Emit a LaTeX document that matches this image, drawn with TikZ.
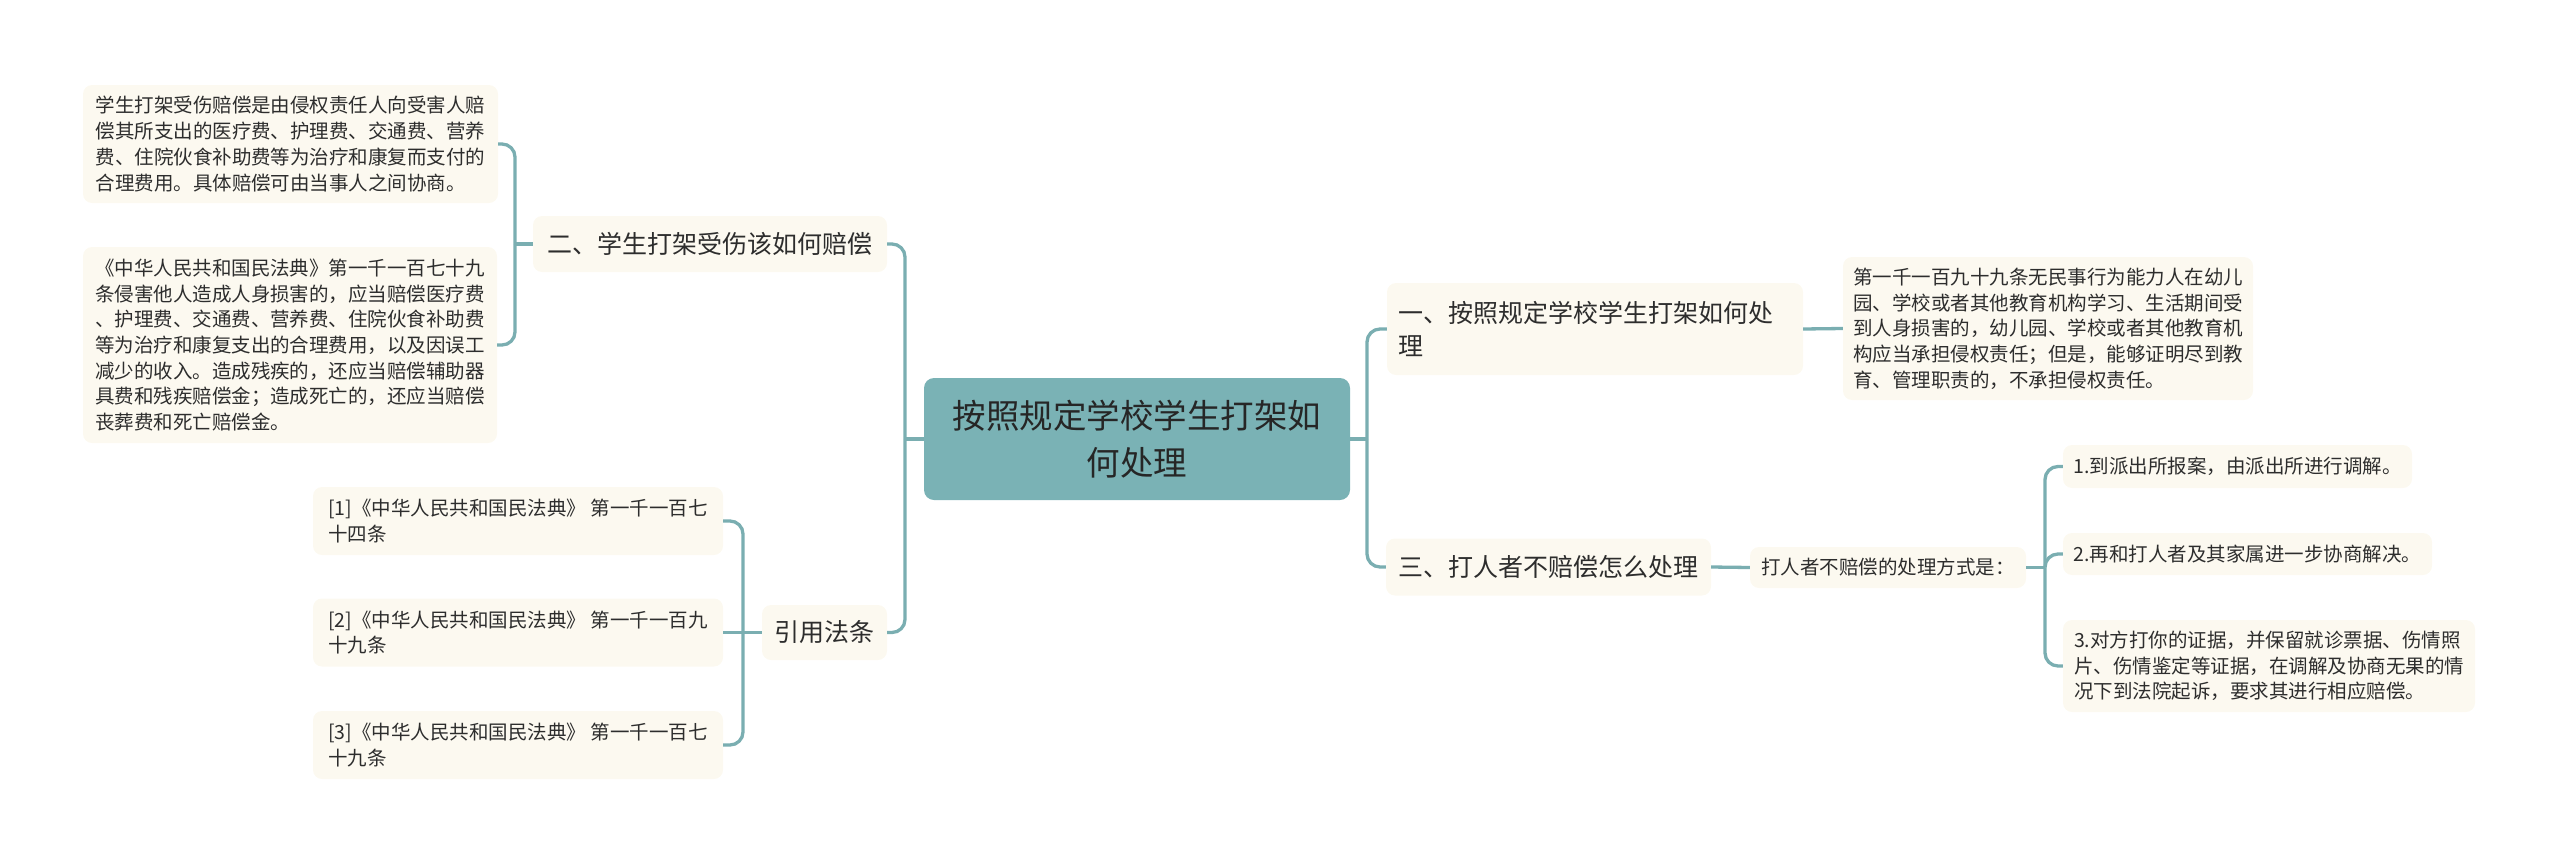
\documentclass[tikz,border=0pt]{standalone}
\usepackage{fontspec}
\setmainfont{Noto Sans CJK SC}
\definecolor{rootF}{RGB}{122,178,181}
\definecolor{lineC}{RGB}{122,174,177}
\definecolor{leafF}{RGB}{252,249,240}
\definecolor{txt}{RGB}{45,45,45}
\newcommand{\fleaf}{\fontsize{19.5}{25.7}\selectfont}
\newcommand{\fbranch}{\fontsize{25}{33}\selectfont}
\newcommand{\froot}{\fontsize{33.5}{47}\selectfont}
\begin{document}
\begin{tikzpicture}[x=1pt,y=-1pt,
  box/.style={fill=leafF, rounded corners=9pt, inner xsep=6pt, inner ysep=0pt, align=left, text=txt},
  leafbox/.style={box, font=\fleaf},
  branchbox/.style={box, font=\fbranch},
  rootbox/.style={fill=rootF, rounded corners=10pt, inner sep=0pt, align=center, font=\froot, text=black!85},
  conn/.style={draw=lineC, line width=3.3pt, rounded corners=13pt},
]
\useasboundingbox (0,0) rectangle (2560,865);

% root
\node[rootbox, minimum width=426, minimum height=122] (root) at (1137,439) {按照规定学校学生打架如\\何处理};

% left side
\node[branchbox, minimum width=354, minimum height=56] (n2) at (710,244) {二、学生打架受伤该如何赔偿};
\node[leafbox, minimum width=415, minimum height=118] (L1) at (290.5,144) {学生打架受伤赔偿是由侵权责任人向受害人赔\\偿其所支出的医疗费、护理费、交通费、营养\\费、住院伙食补助费等为治疗和康复而支付的\\合理费用。具体赔偿可由当事人之间协商。};
\node[leafbox, minimum width=414, minimum height=196] (L2) at (290,345) {《中华人民共和国民法典》第一千一百七十九\\条侵害他人造成人身损害的，应当赔偿医疗费\\、护理费、交通费、营养费、住院伙食补助费\\等为治疗和康复支出的合理费用，以及因误工\\减少的收入。造成残疾的，还应当赔偿辅助器\\具费和残疾赔偿金；造成死亡的，还应当赔偿\\丧葬费和死亡赔偿金。};
\node[branchbox, minimum width=125, minimum height=55] (cite) at (824.5,632.5) {引用法条};
\node[leafbox, minimum width=410, minimum height=68] (c1) at (518,521) {[1]《中华人民共和国民法典》~第一千一百七\\十四条};
\node[leafbox, minimum width=410, minimum height=68] (c2) at (518,632.5) {[2]《中华人民共和国民法典》~第一千一百九\\十九条};
\node[leafbox, minimum width=410, minimum height=68] (c3) at (518,745) {[3]《中华人民共和国民法典》~第一千一百七\\十九条};

% right side
\node[branchbox, inner xsep=11pt, text width=394pt, minimum height=92] (n1) at (1595,329) {一、按照规定学校学生打架如何处\\理};
\node[leafbox, minimum width=410, minimum height=143] (r1) at (2048,328.5) {第一千一百九十九条无民事行为能力人在幼儿\\园、学校或者其他教育机构学习、生活期间受\\到人身损害的，幼儿园、学校或者其他教育机\\构应当承担侵权责任；但是，能够证明尽到教\\育、管理职责的，不承担侵权责任。};
\node[branchbox, minimum width=325, minimum height=57] (n3) at (1548.5,567) {三、打人者不赔偿怎么处理};
\node[leafbox, minimum width=276, minimum height=41] (d) at (1888,567.5) {打人者不赔偿的处理方式是：};
\node[leafbox, minimum width=349, minimum height=43] (p1) at (2237.5,466.5) {1.到派出所报案，由派出所进行调解。};
\node[leafbox, minimum width=369, minimum height=42] (p2) at (2247.5,554) {2.再和打人者及其家属进一步协商解决。};
\node[leafbox, minimum width=412, minimum height=92] (p3) at (2269,666) {3.对方打你的证据，并保留就诊票据、伤情照\\片、伤情鉴定等证据，在调解及协商无果的情\\况下到法院起诉，要求其进行相应赔偿。};

% connectors
\coordinate (bl) at (905,439);
\draw[conn] (root.west) -- (bl);
\draw[conn] (bl) |- (n2.east);
\draw[conn] (bl) |- (cite.east);

\coordinate (b2) at (515,244);
\draw[conn] (n2.west) -- (b2);
\draw[conn] (b2) |- (L1.east);
\draw[conn] (b2) |- (L2.east);

\coordinate (b3) at (743,632.5);
\draw[conn] (cite.west) -- (b3);
\draw[conn] (b3) |- (c1.east);
\draw[conn] (b3) -- (c2.east);
\draw[conn] (b3) |- (c3.east);

\coordinate (br) at (1367,439);
\draw[conn] (root.east) -- (br);
\draw[conn] (br) |- (n1.west);
\draw[conn] (br) |- (n3.west);

\draw[conn] (n1.east) -- (r1.west);
\draw[conn] (n3.east) -- (d.west);

\coordinate (b4) at (2045,567.5);
\draw[conn] (d.east) -- (b4);
\draw[conn] (b4) |- (p1.west);
\draw[conn] (b4) |- (p2.west);
\draw[conn] (b4) |- (p3.west);
\end{tikzpicture}
\end{document}
